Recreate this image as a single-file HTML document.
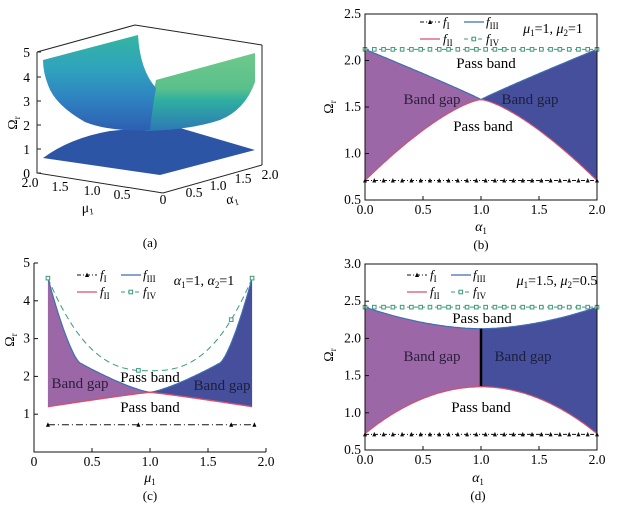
<!DOCTYPE html>
<html><head><meta charset="utf-8"><style>
html,body{margin:0;padding:0;background:#fff;}
svg{display:block;font-family:"Liberation Serif",serif;}
</style></head><body>
<svg id="s" width="621" height="510" xmlns="http://www.w3.org/2000/svg"></svg>
<script>
const S=document.getElementById('s');let h='';
const P='#9b67a7',B='#454f9c',R='#d4506e',BL='#3f6fb0',G='#3a9a7a';
function pl(pts){return pts.map((p,i)=>(i?'L':'M')+p[0].toFixed(1)+','+p[1].toFixed(1)).join('')}
function txt(x,y,t,sz,anc,extra){h+=`<text x="${x}" y="${y}" font-size="${sz||13}" text-anchor="${anc||'middle'}" ${extra||''}>${t}</text>`}
function panel(o){
 const X=v=>o.x0+(v-o.xa)/(o.xb-o.xa)*(o.x1-o.x0), Y=v=>o.y0-(v-o.ya)/(o.yb-o.ya)*(o.y0-o.y1);
 return [X,Y];
}
function curve(f,a,b,X,Y,n){n=n||60;const r=[];for(let i=0;i<=n;i++){const v=a+(b-a)*i/n;r.push([X(v),Y(f(v))]);}return r;}
function markers(y,a,b,step,X,Y,kind,col){for(let v=a;v<=b+1e-6;v+=step){const x=X(v),yy=Y(y);
 if(kind=='t')h+=`<path d="M${x-2},${yy+2}L${x+2},${yy+2}L${x},${yy-2.5}Z" fill="#111"/>`;
 else h+=`<rect x="${x-1.8}" y="${yy-1.8}" width="3.6" height="3.6" fill="#fff" stroke="${col}" stroke-width="1"/>`;}}
function axes(o,X,Y,xt,yt,full,xfmt,yfmt){
 if(full)h+=`<rect x="${o.x0}" y="${o.y1}" width="${o.x1-o.x0}" height="${o.y0-o.y1}" fill="none" stroke="#111" stroke-width="1"/>`;
 else h+=`<path d="M${o.x0},${o.y1}L${o.x0},${o.y0}L${o.x1},${o.y0}" fill="none" stroke="#111"/>`;
 xt.forEach(v=>{h+=`<line x1="${X(v)}" x2="${X(v)}" y1="${o.y0}" y2="${o.y0-4}" stroke="#111"/>`;txt(X(v),o.y0+14,xfmt(v),13.5)});
 yt.forEach(v=>{h+=`<line x1="${o.x0}" x2="${o.x0+4}" y1="${Y(v)}" y2="${Y(v)}" stroke="#111"/>`;txt(o.x0-4,Y(v)+4,yfmt(v),13.5,'end')});
}
function legend(x,y,ann){
 h+=`<path d="M${x},${y}L${x+20},${y}" stroke="#111" stroke-dasharray="4,2,1,2"/>`;h+=`<path d="M${x+10-2},${y+2}L${x+10+2},${y+2}L${x+10},${y-2.5}Z"/>`;
 txt(x+23,y+4,'<tspan font-style="italic">f</tspan><tspan font-size="9" dy="3">I</tspan>',13,'start');
 h+=`<path d="M${x+44},${y}L${x+64},${y}" stroke="${BL}" stroke-width="1.3"/>`;
 txt(x+66,y+4,'<tspan font-style="italic">f</tspan><tspan font-size="9" dy="3">III</tspan>',13,'start');
 const y2=y+17;
 h+=`<path d="M${x},${y2}L${x+20},${y2}" stroke="${R}" stroke-width="1.3"/>`;
 txt(x+23,y2+4,'<tspan font-style="italic">f</tspan><tspan font-size="9" dy="3">II</tspan>',13,'start');
 h+=`<path d="M${x+44},${y2}L${x+64},${y2}" stroke="${G}" stroke-dasharray="4,3"/>`;h+=`<rect x="${x+52}" y="${y2-1.8}" width="3.6" height="3.6" fill="#fff" stroke="${G}"/>`;
 txt(x+66,y2+4,'<tspan font-style="italic">f</tspan><tspan font-size="9" dy="3">IV</tspan>',13,'start');
}
const f1=v=>v.toFixed(1);
// ---------- (b)
{const o={x0:365,x1:597,xa:0,xb:2,y0:200,y1:14,ya:0.5,yb:2.5};const [X,Y]=panel(o);
 const top=v=>1.58+0.54*Math.pow(Math.abs(1-v),0.95), bot=v=>1.58-0.87*Math.pow(Math.abs(1-v),1.4);
 let L=curve(top,0,1,X,Y),Lb=curve(bot,1,0,X,Y);h+=`<path d="${pl(L.concat(Lb))}Z" fill="${P}"/>`;
 let Rr=curve(top,1,2,X,Y),Rb=curve(bot,2,1,X,Y);h+=`<path d="${pl(Rr.concat(Rb))}Z" fill="${B}"/>`;
 h+=`<path d="${pl(curve(top,0,2,X,Y,120))}" fill="none" stroke="${BL}" stroke-width="1.2"/>`;
 h+=`<path d="${pl(curve(bot,0,2,X,Y,120))}" fill="none" stroke="${R}" stroke-width="1.2"/>`;
 h+=`<line x1="${X(0)}" x2="${X(2)}" y1="${Y(2.12)}" y2="${Y(2.12)}" stroke="${G}" stroke-dasharray="4,3"/>`;markers(2.12,0,2,0.08,X,Y,'s',G);
 h+=`<line x1="${X(0)}" x2="${X(2)}" y1="${Y(0.71)}" y2="${Y(0.71)}" stroke="#111" stroke-dasharray="4,2,1,2"/>`;markers(0.71,0,2,0.08,X,Y,'t');
 axes(o,X,Y,[0,0.5,1,1.5,2],[0.5,1,1.5,2,2.5],true,f1,f1);
 legend(420,22);txt(553,33,'<tspan font-style="italic">μ</tspan><tspan font-size="9" dy="3">1</tspan><tspan dy="-3">=1, </tspan><tspan font-style="italic">μ</tspan><tspan font-size="9" dy="3">2</tspan><tspan dy="-3">=1</tspan>',14);
 txt(486,68,'Pass band',15);txt(432,104,'Band gap',15,'middle','fill="#2a1f3a"');txt(530,104,'Band gap',15,'middle','fill="#1d1f3a"');txt(483,131,'Pass band',15);
 txt(481,231,'<tspan font-style="italic">α</tspan><tspan font-size="9" dy="3">1</tspan>',14);txt(481,249,'(b)',13);
 txt(333,107,'Ω<tspan font-size="9" dy="3">r</tspan>',14,'middle','transform="rotate(-90 333 107)"');
}
// ---------- (d)
{const o={x0:365,x1:597,xa:0,xb:2,y0:450,y1:264,ya:0.5,yb:3};const [X,Y]=panel(o);
 const top=v=>2.13+0.29*Math.pow(Math.abs(1-v),1.8), bot=v=>1.35-0.63*Math.pow(Math.abs(1-v),2);
 let L=curve(top,0,1,X,Y),Lb=curve(bot,1,0,X,Y);h+=`<path d="${pl(L.concat(Lb))}Z" fill="${P}"/>`;
 let Rr=curve(top,1,2,X,Y),Rb=curve(bot,2,1,X,Y);h+=`<path d="${pl(Rr.concat(Rb))}Z" fill="${B}"/>`;
 h+=`<path d="${pl(curve(top,0,2,X,Y,120))}" fill="none" stroke="${BL}" stroke-width="1.2"/>`;
 h+=`<path d="${pl(curve(bot,0,2,X,Y,120))}" fill="none" stroke="${R}" stroke-width="1.2"/>`;
 h+=`<line x1="${X(1)}" x2="${X(1)}" y1="${Y(2.13)}" y2="${Y(1.36)}" stroke="#000" stroke-width="2.5"/>`;
 h+=`<line x1="${X(0)}" x2="${X(2)}" y1="${Y(2.42)}" y2="${Y(2.42)}" stroke="${G}" stroke-dasharray="4,3"/>`;markers(2.42,0,2,0.08,X,Y,'s',G);
 h+=`<line x1="${X(0)}" x2="${X(2)}" y1="${Y(0.71)}" y2="${Y(0.71)}" stroke="#111" stroke-dasharray="4,2,1,2"/>`;markers(0.71,0,2,0.08,X,Y,'t');
 axes(o,X,Y,[0,0.5,1,1.5,2],[0.5,1,1.5,2,2.5,3],true,f1,f1);
 legend(407,275);txt(557,285,'<tspan font-style="italic">μ</tspan><tspan font-size="9" dy="3">1</tspan><tspan dy="-3">=1.5, </tspan><tspan font-style="italic">μ</tspan><tspan font-size="9" dy="3">2</tspan><tspan dy="-3">=0.5</tspan>',14);
 txt(482,323,'Pass band',15);txt(432,361,'Band gap',15,'middle','fill="#2a1f3a"');txt(523,361,'Band gap',15,'middle','fill="#1d1f3a"');txt(481,412,'Pass band',15);
 txt(478,482,'<tspan font-style="italic">α</tspan><tspan font-size="9" dy="3">1</tspan>',14);txt(478,500,'(d)',13);
 txt(333,355,'Ω<tspan font-size="9" dy="3">r</tspan>',14,'middle','transform="rotate(-90 333 355)"');
}
// ---------- (c)
{const o={x0:34,x1:266,xa:0,xb:2,y0:452,y1:263,ya:0,yb:5};const [X,Y]=panel(o);
 const top=v=>{const t=Math.abs(1-v);return t>0.6?2.35+(t-0.6)/0.28*2.25*Math.pow((t-0.6)/0.28,0.4):1.58+0.77*Math.pow(t/0.6,1.3)};
 const bot=v=>1.58-0.38*Math.pow(Math.abs(1-v)/0.88,1.1);
 const fiv=v=>{const t=Math.abs(1-v)/0.88;return 2.15+2.45*Math.pow(t,2.6)};
 let L=curve(top,0.12,1,X,Y),Lb=curve(bot,1,0.12,X,Y);h+=`<path d="${pl(L.concat(Lb))}Z" fill="${P}"/>`;
 let Rr=curve(top,1,1.88,X,Y),Rb=curve(bot,1.88,1,X,Y);h+=`<path d="${pl(Rr.concat(Rb))}Z" fill="${B}"/>`;
 h+=`<path d="${pl(curve(top,0.12,1.88,X,Y,160))}" fill="none" stroke="${BL}" stroke-width="1.2"/>`;
 h+=`<path d="${pl(curve(bot,0.12,1.88,X,Y,120))}" fill="none" stroke="${R}" stroke-width="1.4"/>`;
 h+=`<path d="${pl(curve(fiv,0.12,1.88,X,Y,120))}" fill="none" stroke="${G}" stroke-dasharray="6,4"/>`;
 [0.12,0.9,1.7,1.88].forEach(v=>{const x=X(v),y=Y(fiv(v));h+=`<rect x="${x-1.8}" y="${y-1.8}" width="3.6" height="3.6" fill="#fff" stroke="${G}"/>`});
 h+=`<line x1="${X(0.12)}" x2="${X(1.9)}" y1="${Y(0.72)}" y2="${Y(0.72)}" stroke="#111" stroke-dasharray="7,3,1,3"/>`;
 [0.12,0.9,1.7,1.9].forEach(v=>{const x=X(v),y=Y(0.72);h+=`<path d="M${x-2},${y+2}L${x+2},${y+2}L${x},${y-2.5}Z"/>`});
 axes(o,X,Y,[0,0.5,1,1.5,2],[1,2,3,4,5],false,v=>v==0?'0':v.toFixed(1),v=>String(v));
 legend(77,275);txt(204,285,'<tspan font-style="italic">α</tspan><tspan font-size="9" dy="3">1</tspan><tspan dy="-3">=1, </tspan><tspan font-style="italic">α</tspan><tspan font-size="9" dy="3">2</tspan><tspan dy="-3">=1</tspan>',14);
 txt(150,382,'Pass band',15);txt(80,388,'Band gap',15,'middle','fill="#2a1f3a"');txt(222,390,'Band gap',15,'middle','fill="#1d1f3a"');txt(150,412,'Pass band',15);
 txt(150,482,'<tspan font-style="italic">μ</tspan><tspan font-size="9" dy="3">1</tspan>',14);txt(150,500,'(c)',13);
 txt(14,340,'Ω<tspan font-size="9" dy="3">r</tspan>',14,'middle','transform="rotate(-90 14 340)"');
}
// ---------- (a) 3D
h+=`<defs><linearGradient id="gl" x1="0" y1="0" x2="0" y2="1"><stop offset="0" stop-color="#34b5a0"/><stop offset="0.35" stop-color="#2fa3bd"/><stop offset="0.7" stop-color="#2f7fc0"/><stop offset="1" stop-color="#2d5fb0"/></linearGradient>
<linearGradient id="gr" x1="0" y1="0" x2="0" y2="1"><stop offset="0" stop-color="#6cc98a"/><stop offset="0.45" stop-color="#5cc08c"/><stop offset="0.6" stop-color="#2fb0a0"/><stop offset="1" stop-color="#2e78b5"/></linearGradient></defs>`;
h+=`<path d="M37,52L135,25L262,45" fill="none" stroke="#222"/><line x1="262" y1="45" x2="262" y2="165" stroke="#222"/>`;
h+=`<path d="M37,52L37,173L163,193L262,165" fill="none" stroke="#222"/>`;
h+=`<path d="M43,158Q70,138 110,131Q160,126 180,128L255,150L160,175Z" fill="#2d55a6"/>`;
h+=`<path d="M156,80L255,53L255,82Q245,110 220,120Q190,130 145,131Q150,110 156,80Z" fill="url(#gr)"/>`;
h+=`<path d="M43,60L138,35Q140,70 156,88Q152,110 150,130Q110,132 85,122Q55,105 48,85Q43,72 43,60Z" fill="url(#gl)"/>`;
[[5,52],[4,77],[3,101],[2,125],[1,149],[0,173]].forEach(a=>{txt(30,a[1]+5,a[0],13.5,'end');h+=`<line x1="37" x2="41" y1="${a[1]}" y2="${a[1]}" stroke="#222"/>`});
[['2.0',30,187],['1.5',60,191],['1.0',92,195],['0.5',122,199],['0',163,204]].forEach(a=>txt(a[1],a[2],a[0],13.5));
[['0.5',194,197],['1.0',218,190],['1.5',243,183],['2.0',270,179]].forEach(a=>txt(a[1],a[2],a[0],13.5));
txt(88,212,'<tspan font-style="italic">μ</tspan><tspan font-size="9" dy="3">1</tspan>',14,'middle','transform="rotate(-10 88 212)"');
txt(233,203,'<tspan font-style="italic">α</tspan><tspan font-size="9" dy="3">1</tspan>',14,'middle','transform="rotate(-15 233 203)"');
txt(17,123,'Ω<tspan font-size="9" dy="3">r</tspan>',14,'middle','transform="rotate(-90 17 123)"');
txt(150,247,'(a)',13);
S.innerHTML=h;
</script>
</body></html>
